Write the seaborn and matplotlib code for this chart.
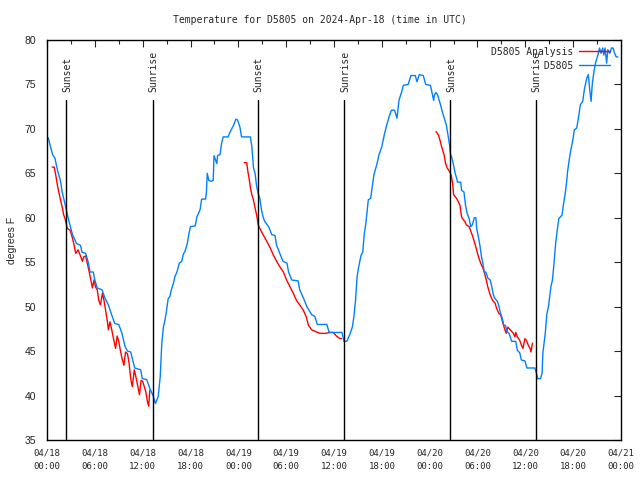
import seaborn as sns
import matplotlib.pyplot as plt
import matplotlib.transforms as mtransforms
import pandas as pd
import numpy as np

# observed temperature (hours since 2024-04-18 00:00 UTC, degrees F)
obs_hours = [0.15, 0.5, 0.7, 1.0, 1.3, 1.7, 1.9, 2.3, 2.7, 3.2, 3.7, 4.2, 4.4, 4.85, 5.2, 5.4, 5.8, 6.0,
             6.3, 6.9, 7.3, 7.7, 8.1, 8.5, 9.0, 9.4, 9.8, 10.1, 10.5, 11.0, 11.75, 11.95, 12.5, 12.9,
             13.3, 13.6, 13.95, 14.2, 14.4, 14.6, 14.8, 15.0, 15.2, 15.4, 15.6, 15.85, 16.05, 16.3,
             16.6, 16.9, 17.1, 17.3, 17.6, 17.8, 18.0, 18.6, 18.8, 19.2, 19.4, 19.9, 20.0, 20.1, 20.3,
             20.6, 20.85, 20.95, 21.15, 21.3, 21.4, 21.7, 21.9, 22.1, 22.7, 23.1, 23.4, 23.7, 23.9,
             24.2, 24.4, 25.5, 25.7, 25.9, 26.1, 26.3, 26.5, 26.7, 26.9, 27.1, 27.3, 27.8, 28.2, 28.6,
             28.8, 29.2, 29.6, 30.1, 30.3, 30.7, 31.5, 31.7, 32.2, 32.6, 33.2, 33.6, 33.9, 35.1, 35.4,
             37.0, 37.25, 37.6, 38.0, 38.3, 38.5, 38.7, 38.9, 39.1, 39.4, 39.6, 39.8, 40.0, 40.3, 40.6,
             40.8, 41.0, 41.4, 41.65, 42.0, 42.3, 42.6, 43.0, 43.2, 43.6, 43.9, 44.15, 44.5, 44.7,
             45.3, 45.65, 46.2, 46.4, 46.7, 47.2, 47.5, 48.1, 48.5, 48.6, 48.8, 49.0, 49.3, 49.6,
             49.9, 50.1, 50.3, 50.5, 50.6, 50.8, 51.0, 51.2, 51.4, 51.5, 51.9, 52.0, 52.3, 52.5, 52.7,
             52.95, 53.15, 53.35, 53.6, 53.8, 53.9, 54.1, 54.3, 54.5, 54.65, 54.85, 55.05, 55.3, 55.6,
             55.8, 56.0, 56.2, 56.5, 56.7, 56.9, 57.1, 57.3, 57.5, 57.7, 57.95, 58.3, 58.8, 59.0, 59.3,
             59.5, 59.95, 60.2, 61.2, 61.4, 61.55, 61.9, 62.1, 62.2, 62.5, 62.7, 62.9, 63.2, 63.4,
             63.6, 63.8, 64.0, 64.2, 64.6, 64.8, 65.0, 65.2, 65.3, 65.5, 65.7, 65.95, 66.15, 66.45,
             66.65, 66.9, 67.2, 67.4, 67.7, 67.9, 68.1, 68.25, 68.4, 68.6, 68.8, 69.1, 69.3, 69.5,
             69.7, 69.85, 70.0, 70.2, 70.35, 70.6, 70.8, 71.0, 71.2, 71.4, 71.6]
obs_temps = [69.0, 67.8, 67.1, 66.7, 65.4, 64.1, 62.9, 61.4, 59.8, 58.1, 57.1, 56.9, 56.1, 56.0, 54.9, 53.9, 53.9, 53.0,
             52.1, 51.9, 50.9, 50.2, 49.1, 48.1, 48.0, 47.0, 45.5, 45.0, 44.9, 43.1, 42.9, 41.9, 41.8, 40.8,
             40.0, 39.1, 39.9, 42.1, 45.9, 47.7, 48.5, 49.6, 50.9, 51.1, 51.9, 52.6, 53.4, 53.9,
             54.9, 55.1, 55.9, 56.2, 57.1, 58.2, 59.0, 59.1, 60.1, 60.9, 62.1, 62.1, 62.9, 65.0, 64.2,
             64.1, 64.2, 67.0, 66.5, 66.1, 67.0, 67.1, 68.4, 69.1, 69.1, 69.9, 70.4, 71.1, 71.0,
             70.2, 69.1, 69.1, 68.0, 65.6, 65.0, 63.5, 62.7, 62.2, 60.9, 60.1, 59.6, 59.0, 58.1, 58.0,
             56.9, 56.0, 55.1, 54.9, 53.9, 53.0, 52.9, 51.9, 50.9, 50.0, 49.1, 48.9, 48.0, 48.0, 47.1,
             47.1, 46.1, 46.1, 46.9, 47.7, 48.9, 50.7, 53.4, 54.5, 55.8, 56.1, 58.2, 59.4, 62.0, 62.2,
             63.5, 64.8, 66.1, 67.1, 68.0, 69.3, 70.4, 71.6, 72.1, 72.1, 71.2, 73.2, 74.2, 74.9,
             75.0, 76.0, 76.0, 75.3, 76.1, 76.0, 75.0, 74.9, 73.2, 73.8, 74.1, 73.8, 72.9, 71.9,
             71.0, 70.4, 69.3, 68.2, 67.2, 66.7, 65.9, 65.0, 64.4, 64.0, 64.0, 63.1, 62.9, 61.4, 60.5,
             59.9, 59.0, 59.2, 60.0, 60.0, 58.8, 57.9, 56.9, 55.6, 55.0, 53.9, 53.9, 53.2, 53.0,
             52.2, 51.3, 50.9, 50.6, 50.0, 49.2, 48.7, 47.9, 47.9, 47.2, 47.0, 46.1, 46.1, 45.1, 44.8,
             44.0, 43.9, 43.1, 43.1, 42.5, 41.9, 41.9, 42.5, 44.8, 47.0, 49.2, 50.0, 52.2, 53.0,
             54.9, 57.1, 58.6, 59.9, 60.3, 61.6, 62.7, 64.2, 65.2, 66.5, 67.6, 68.7, 69.9, 70.1,
             71.2, 72.7, 73.1, 74.4, 75.7, 76.1, 74.2, 73.1, 75.1, 76.4, 77.4, 78.3, 79.1, 78.5,
             79.1, 78.3, 79.1, 77.4, 78.9, 78.5, 79.1, 79.1, 78.5, 78.1, 78.1]

# analysis, three night-time segments
ana1_hours = [0.65, 0.9, 1.1, 1.3, 1.5, 1.7, 1.9, 2.1, 2.3, 2.55, 2.9, 3.2, 3.4, 3.6, 3.9, 4.2, 4.45, 4.6,
              4.85, 5.0, 5.3, 5.5, 5.7, 5.9, 6.1, 6.3, 6.5, 6.7, 6.95, 7.15, 7.35, 7.55, 7.7, 7.9, 8.1,
              8.3, 8.6, 8.8, 9.0, 9.2, 9.4, 9.65, 9.85, 10.1, 10.3, 10.5, 10.7, 10.95, 11.15, 11.4,
              11.6, 11.8, 12.0, 12.2, 12.4, 12.6, 12.75, 12.9]
ana1_temps = [65.7, 65.7, 64.8, 63.7, 62.8, 62.0, 61.2, 60.3, 59.8, 58.8, 58.6, 57.7, 56.9, 56.0, 56.4, 55.7, 55.1, 55.6,
              55.7, 55.1, 53.9, 53.0, 52.1, 53.0, 52.2, 51.9, 50.7, 50.2, 51.5, 50.7, 49.6, 48.5, 47.4, 48.3, 47.5,
              46.6, 45.3, 46.7, 46.1, 45.1, 44.2, 43.4, 44.9, 44.7, 43.6, 41.9, 41.0, 42.9, 42.1, 41.0,
              40.1, 41.7, 41.6, 41.0, 40.4, 39.3, 38.8, 40.6]
ana2_hours = [24.75, 25.05, 25.2, 25.35, 25.55, 25.7, 25.9, 26.1, 26.3, 26.5, 26.7, 27.1, 27.6, 28.0, 28.4,
              28.8, 29.2, 29.65, 30.05, 30.5, 30.9, 31.3, 31.7, 32.15, 32.5, 32.8, 33.2, 33.7, 34.2,
              35.0, 35.5, 35.9, 36.3, 36.75, 36.95]
ana2_temps = [66.2, 66.2, 65.2, 64.4, 63.2, 62.6, 62.0, 61.1, 60.3, 59.2, 58.8, 58.1, 57.3, 56.6, 55.8,
              55.1, 54.5, 53.9, 53.0, 52.2, 51.5, 50.7, 50.2, 49.6, 48.9, 47.9, 47.4, 47.2, 47.0,
              47.0, 47.1, 47.1, 46.7, 46.4, 46.4]
ana3_hours = [48.8, 49.1, 49.3, 49.5, 49.8, 50.0, 50.2, 50.5, 50.7, 50.9, 51.0, 51.35, 51.6, 51.8, 52.0,
              52.2, 52.4, 52.6, 52.95, 53.2, 53.4, 53.6, 53.8, 54.0, 54.2, 54.4, 54.7, 54.9, 55.1,
              55.3, 55.6, 55.9, 56.2, 56.4, 56.7, 56.9, 57.2, 57.4, 57.6, 57.8, 58.0, 58.3, 58.5,
              58.7, 58.8, 59.0, 59.3, 59.5, 59.7, 59.95, 60.15, 60.35, 60.6, 60.7, 60.9]
ana3_temps = [69.7, 69.3, 68.7, 68.0, 67.1, 66.1, 65.6, 65.2, 64.8, 63.7, 62.6, 62.2, 61.8, 61.4, 60.1,
              59.8, 59.6, 59.2, 59.0, 58.4, 57.9, 57.3, 56.7, 56.0, 55.4, 54.9, 54.3, 53.7, 53.0,
              52.2, 51.3, 50.7, 50.4, 49.8, 49.2, 49.1, 48.1, 47.5, 47.0, 47.7, 47.5, 47.2, 47.0,
              46.6, 47.1, 46.6, 46.2, 45.7, 45.3, 46.4, 46.2, 45.7, 45.3, 44.9, 45.9]

sun_hours = [2.42, 13.26, 26.47, 37.3, 50.6, 61.3]
sun_labels = ["Sunset", "Sunrise", "Sunset", "Sunrise", "Sunset", "Sunrise"]

tick_hours = list(range(0, 73, 6))
tick_labels = ["04/18\n00:00", "04/18\n06:00", "04/18\n12:00", "04/18\n18:00",
               "04/19\n00:00", "04/19\n06:00", "04/19\n12:00", "04/19\n18:00",
               "04/20\n00:00", "04/20\n06:00", "04/20\n12:00", "04/20\n18:00",
               "04/21\n00:00"]

sns.set_style("white")
mono = "DejaVu Sans Mono"

fig = plt.figure(figsize=(6.4, 4.8), dpi=100)
ax = fig.add_axes([47 / 640, 40 / 480, 574 / 640, 400 / 480])

red = "#ff0000"
blue = "#0080ff"

for i, (h, t) in enumerate([(ana1_hours, ana1_temps), (ana2_hours, ana2_temps), (ana3_hours, ana3_temps)]):
    sns.lineplot(x=h, y=t, ax=ax, color=red, lw=1.0, estimator=None, sort=False,
                 label="D5805 Analysis" if i == 0 else None)
sns.lineplot(x=obs_hours, y=obs_temps, ax=ax, color=blue, lw=1.0, estimator=None, sort=False,
             label=" " * 9 + "D5805")

trans = mtransforms.blended_transform_factory(ax.transData, ax.transAxes)
for h, lab in zip(sun_hours, sun_labels):
    ax.plot([h, h], [0, 0.85], color="black", lw=1.0, transform=trans)
    ax.text(h + 0.1, 0.87, lab, rotation=90, ha="center", va="bottom", transform=trans,
            family=mono, fontsize=7)

ax.set_xlim(0, 72)
ax.set_ylim(35, 80)
ax.set_xticks(tick_hours)
ax.set_xticklabels(tick_labels, family=mono, fontsize=6.5, linespacing=1.6)
ax.set_xticks(np.arange(3, 72, 6), minor=True)
ax.set_yticks(range(35, 81, 5))
ax.set_yticklabels([str(v) for v in range(35, 81, 5)], family="Liberation Sans", fontsize=7.5)
ax.tick_params(which="both", direction="in", top=True, right=True, width=0.8)
ax.tick_params(which="major", length=5)
ax.tick_params(which="minor", length=3)
ax.tick_params(axis="x", pad=6)
ax.tick_params(axis="y", pad=8)
for s in ax.spines.values():
    s.set_color("black")
    s.set_linewidth(1.0)

ax.set_xlabel("")
ax.set_ylabel("degrees F", family="Liberation Sans", fontsize=7.5, labelpad=5)
fig.text(0.5, 1 - 20 / 480, "Temperature for D5805 on 2024-Apr-18 (time in UTC)",
         ha="center", va="center", family=mono, fontsize=7)

leg = ax.legend(loc="upper right", bbox_to_anchor=(1 - 5 / 574, 0.998), frameon=False,
                markerfirst=False, handlelength=3.2,
                prop={"family": mono, "size": 7}, borderaxespad=0.2, labelspacing=0.4,
                handletextpad=0.6)

fig.savefig("out.png", dpi=100)
